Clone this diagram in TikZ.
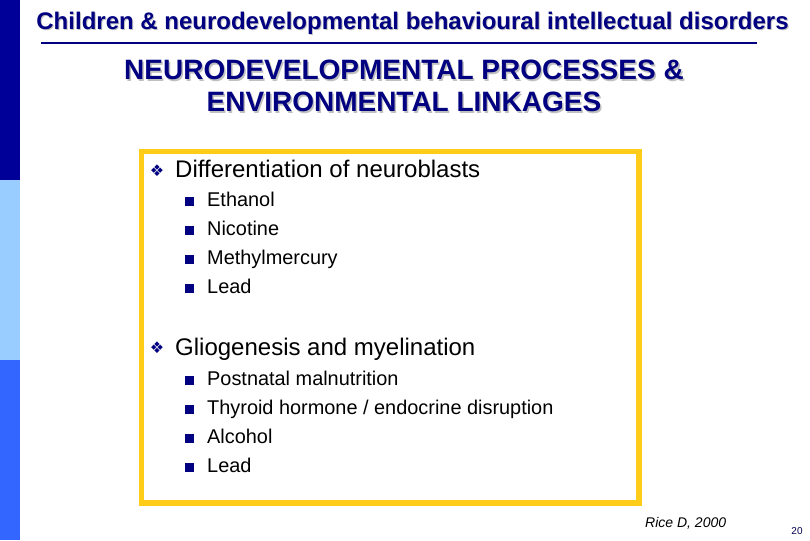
\documentclass[tikz,border=0pt]{standalone}
\usepackage{fontspec}
\setmainfont{Liberation Sans}
\usepackage{tikz}
\newfontfamily\symfont{DejaVu Sans}

\definecolor{navy}{HTML}{000080}
\definecolor{stripnavy}{HTML}{000099}
\definecolor{paleblue}{HTML}{99CCFF}
\definecolor{midblue}{HTML}{3366FF}
\definecolor{framegold}{HTML}{FFCC1A}
\definecolor{titleshade}{HTML}{C0C0C0}

\tikzset{
    head/.style={anchor=base, text=navy, font=\bfseries\fontsize{#1}{#1}\selectfont},
    shade/.style={anchor=base, text=titleshade, font=\bfseries\fontsize{#1}{#1}\selectfont},
    topic/.style={anchor=base west, font=\fontsize{24}{24}\selectfont, inner sep=0},
    item/.style={anchor=base west, font=\fontsize{19.9}{19.9}\selectfont, inner sep=0},
    mark box/.style={text=navy, font=\symfont\fontsize{16}{16}\selectfont, anchor=center, inner sep=0},
}

\begin{document}
\begin{tikzpicture}[x=1pt, y=-1pt]
    \useasboundingbox (0,0) rectangle (810,540);

    % Franja izquierda
    \fill[stripnavy] (0,0) rectangle (20,180);
    \fill[paleblue] (0,180) rectangle (20,360);
    \fill[midblue] (0,360) rectangle (20,540);

    % Titulo
    \node[shade=24] (headshade) at (413.5,31) {Children \& neurodevelopmental behavioural intellectual disorders};
    \node[head=24] (headtext) at (412.5,30) {Children \& neurodevelopmental behavioural intellectual disorders};
    \draw[navy, line width=1.5pt] (41,43) -- (757,43);

    % Subtitulo
    \node[shade=28] (subshadea) at (405.5,81.5) {NEURODEVELOPMENTAL PROCESSES \&};
    \node[head=28] (subtexta) at (404,80) {NEURODEVELOPMENTAL PROCESSES \&};
    \node[shade=28] (subshadeb) at (405.5,113.5) {ENVIRONMENTAL LINKAGES};
    \node[head=28] (subtextb) at (404,112) {ENVIRONMENTAL LINKAGES};

    % Marco
    \draw[framegold, line width=5.5pt] (141.5,151.5) rectangle (639,503);

    % Primer bloque
    \node[mark box] (marka) at (157,171) {❖};
    \node[topic] (diff) at (175,177) {Differentiation of neuroblasts};
    \foreach \name/\ypos/\label in {ethanol/206/Ethanol, nicotine/235/Nicotine, mercury/264/Methylmercury, leada/293/Lead} {
        \fill[navy] (185,\ypos-9) rectangle (194,\ypos);
        \node[item] (\name) at (207,\ypos) {\label};
    }

    % Segundo bloque
    \node[mark box] (markb) at (157,348) {❖};
    \node[topic] (glio) at (175,355) {Gliogenesis and myelination};
    \foreach \name/\ypos/\label in {malnut/385/{Postnatal malnutrition}, thyroid/414/{Thyroid hormone / endocrine disruption}, alcohol/443/Alcohol, leadb/472/Lead} {
        \fill[navy] (185,\ypos-9) rectangle (194,\ypos);
        \node[item] (\name) at (207,\ypos) {\label};
    }

    % Cita y numero
    \node[anchor=base west, inner sep=0, font=\itshape\fontsize{14}{14}\selectfont] (cite) at (645,527) {Rice D, 2000};
    \node[anchor=base, inner sep=0, text=navy!60!black, font=\fontsize{10}{10}\selectfont] (pagenum) at (797,534) {20};
\end{tikzpicture}
\end{document}
